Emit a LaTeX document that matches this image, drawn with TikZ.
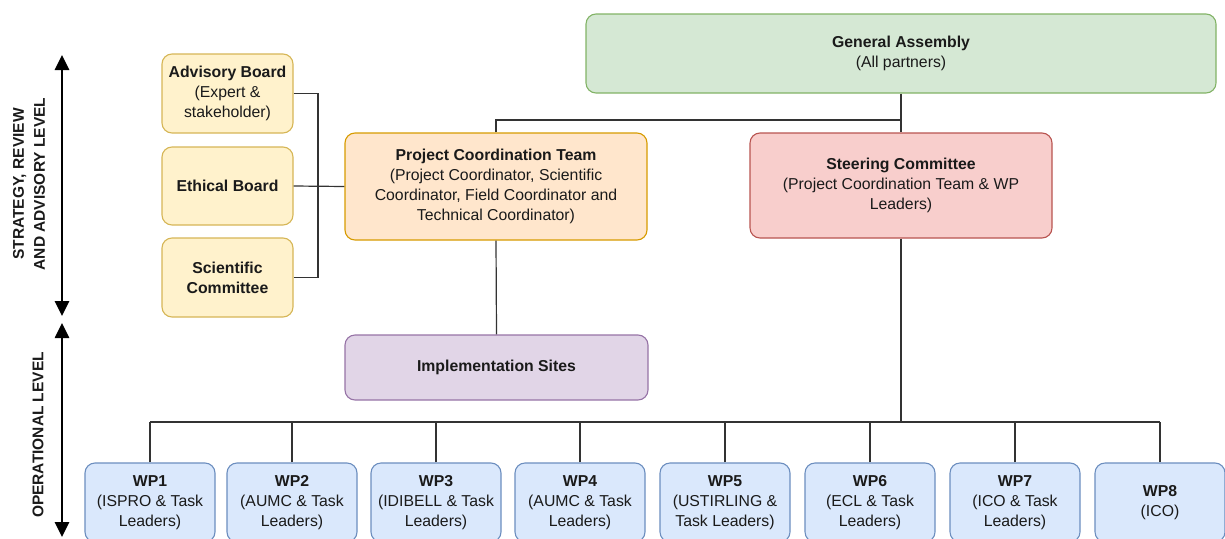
\documentclass[tikz,border=0pt]{standalone}
\usepackage{fontspec}
\setmainfont{Liberation Sans}
\usetikzlibrary{arrows.meta}
\definecolor{gaF}{HTML}{D5E8D4}\definecolor{gaD}{HTML}{82B366}
\definecolor{scF}{HTML}{F8CECC}\definecolor{scD}{HTML}{B85450}
\definecolor{pcF}{HTML}{FFE6CC}\definecolor{pcD}{HTML}{D79B00}
\definecolor{adF}{HTML}{FFF2CC}\definecolor{adD}{HTML}{D6B656}
\definecolor{isF}{HTML}{E1D5E7}\definecolor{isD}{HTML}{9673A6}
\definecolor{wpF}{HTML}{DAE8FC}\definecolor{wpD}{HTML}{6C8EBF}
\definecolor{txt}{HTML}{1A1A1A}
\definecolor{conn}{HTML}{333333}
\begin{document}
\begin{tikzpicture}[x=1pt,y=-1pt,
  font=\fontsize{15.8}{19.8}\selectfont,
  box/.style={draw, rounded corners=10pt, line width=1.1pt, align=center, inner sep=0pt, text=txt},
  gabox/.style={box, fill=gaF, draw=gaD},
  scbox/.style={box, fill=scF, draw=scD},
  pcbox/.style={box, fill=pcF, draw=pcD},
  adbox/.style={box, fill=adF, draw=adD, minimum width=131pt, minimum height=79pt},
  isbox/.style={box, fill=isF, draw=isD},
  wpbox/.style={box, fill=wpF, draw=wpD, minimum width=130pt, minimum height=79pt},
  link/.style={draw=conn, line width=1.2pt},
  levelarrow/.style={line width=2.6pt, {Triangle[length=15pt,width=14pt]}-{Triangle[length=15pt,width=14pt]}},
  levellabel/.style={rotate=90, align=center, font=\fontsize{15.5}{21}\selectfont\bfseries, text=txt}
]
\useasboundingbox (0,0) rectangle (1225,538);
\clip (0,0) rectangle (1225,538);

% level arrows
\coordinate (a1t) at (62,55);
\coordinate (a1b) at (62,316);
\coordinate (a2t) at (62,323);
\coordinate (a2b) at (62,537);
\draw[levelarrow] (a1t) -- (a1b);
\draw[levelarrow] (a2t) -- (a2b);
\node[levellabel] (lvl1) at (29,184) {STRATEGY, REVIEW\\AND ADVISORY LEVEL};
\node[levellabel] (lvl2) at (38,435) {OPERATIONAL LEVEL};

% boxes
\node[gabox, minimum width=630pt, minimum height=79pt] (ga) at (901,53.5) {\textbf{General Assembly}\\(All partners)};
\node[adbox] (adv) at (227.5,93.5) {\textbf{Advisory Board}\\(Expert \&\\stakeholder)};
\node[adbox, minimum height=78pt] (eth) at (227.5,186) {\textbf{Ethical Board}};
\node[adbox] (sci) at (227.5,277.5) {\textbf{Scientific}\\\textbf{Committee}};
\node[pcbox, minimum width=302pt, minimum height=107pt] (pct) at (496,186.5) {\textbf{Project Coordination Team}\\(Project Coordinator, Scientific\\Coordinator, Field Coordinator and\\Technical Coordinator)};
\node[scbox, minimum width=302pt, minimum height=105pt] (sc) at (901,185.5) {\textbf{Steering Committee}\\(Project Coordination Team \& WP\\Leaders)};
\node[isbox, minimum width=303pt, minimum height=65pt] (is) at (496.5,367.5) {\textbf{Implementation Sites}};

\node[wpbox] (wp1) at (150,502.5) {\textbf{WP1}\\(ISPRO \& Task\\Leaders)};
\node[wpbox] (wp2) at (292,502.5) {\textbf{WP2}\\(AUMC \& Task\\Leaders)};
\node[wpbox] (wp3) at (436,502.5) {\textbf{WP3}\\(IDIBELL \& Task\\Leaders)};
\node[wpbox] (wp4) at (580,502.5) {\textbf{WP4}\\(AUMC \& Task\\Leaders)};
\node[wpbox] (wp5) at (725,502.5) {\textbf{WP5}\\(USTIRLING \&\\Task Leaders)};
\node[wpbox] (wp6) at (870,502.5) {\textbf{WP6}\\(ECL \& Task\\Leaders)};
\node[wpbox] (wp7) at (1015,502.5) {\textbf{WP7}\\(ICO \& Task\\Leaders)};
\node[wpbox] (wp8) at (1160,502.5) {\textbf{WP8}\\(ICO)};

% connectors
\coordinate (advbus) at (318,93.5);
\coordinate (top) at (901,120);
\coordinate (bus) at (901,422);
\draw[link] (adv.east) -- (advbus) |- (sci.east);
\draw[link] (eth.east) -- (pct.west);
\draw[link] (ga.south) -- (sc.north);
\draw[link] (pct.north) |- (top);
\draw[link] (pct.south) -- (is.north);
\draw[link] (sc.south) -- (bus);
\draw[link] (wp1.north |- bus) -- (wp8.north |- bus);
\foreach \i in {1,...,8}{
  \draw[link] (wp\i.north) -- (wp\i.north |- bus);
}
\end{tikzpicture}
\end{document}
